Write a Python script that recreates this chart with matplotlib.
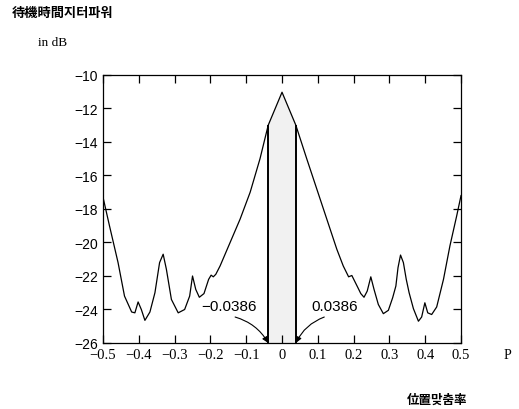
import numpy as np
import matplotlib
matplotlib.use("Agg")
from matplotlib import pyplot as plt

# curve (P, power in dB)
p = [-0.5, -0.482, -0.458, -0.44, -0.42, -0.411, -0.402, -0.393, -0.383, -0.369,
     -0.355, -0.342, -0.332, -0.323, -0.309, -0.29, -0.272, -0.258, -0.25, -0.241,
     -0.231, -0.218, -0.205, -0.198, -0.192, -0.185, -0.173, -0.145, -0.117, -0.089,
     -0.0615, -0.0386, 0.0,
     0.0386, 0.069, 0.097, 0.125, 0.153, 0.171, 0.186, 0.195,
     0.205, 0.212, 0.22, 0.229, 0.238, 0.248, 0.257, 0.269, 0.283,
     0.297, 0.309, 0.318, 0.324, 0.331, 0.339, 0.347, 0.355, 0.367, 0.381,
     0.39, 0.399, 0.407, 0.418, 0.432, 0.451, 0.469, 0.488, 0.5]
db = [-17.3, -19.0, -21.2, -23.2, -24.15, -24.2, -23.55, -24.0, -24.65, -24.15,
      -23.0, -21.2, -20.7, -21.6, -23.4, -24.2, -24.0, -23.2, -22.0, -22.8,
      -23.27, -23.05, -22.2, -21.95, -22.05, -21.9, -21.4, -20.0, -18.6, -17.0,
      -15.0, -13.0, -11.03,
      -13.0, -15.0, -16.8, -18.6, -20.4, -21.4, -22.05, -21.97,
      -22.4, -22.7, -23.05, -23.27, -22.9, -22.05, -22.8, -23.7, -24.25,
      -24.05, -23.3, -22.6, -21.5, -20.75, -21.2, -22.2, -23.0, -23.95, -24.7,
      -24.45, -23.6, -24.2, -24.3, -23.85, -22.2, -20.2, -18.4, -17.2]
band = 0.0386

xticks = [-0.5, -0.4, -0.3, -0.2, -0.1, 0, 0.1, 0.2, 0.3, 0.4, 0.5]
xlabels = ['\u22120.5', '\u22120.4', '\u22120.3', '\u22120.2', '\u22120.1', '0',
           '0.1', '0.2', '0.3', '0.4', '0.5']
yticks = [-10, -12, -14, -16, -18, -20, -22, -24, -26]

fig = plt.figure(figsize=(5.19, 4.10), dpi=100)
ax = fig.add_axes([0.1985, 0.161, 0.6898, 0.6537])

p = np.array(p)
db = np.array(db)
ax.plot(p, db, color='black', lw=0.9)

# shaded band between the two marks
xs = np.linspace(-band, band, 50)
top = np.interp(xs, p, db)
ax.fill_between(xs, -26, top, facecolor='#f1f1f1', edgecolor='none', zorder=0)
ax.vlines([-band, band], -26, np.interp([-band, band], p, db), color='black', lw=1.4)

ax.text(-0.148, -23.8, '\u22120.0386', ha='center', va='center', fontsize=11,
        family='Liberation Sans')
ax.text(0.147, -23.8, '0.0386', ha='center', va='center', fontsize=11,
        family='Liberation Sans')
ax.annotate('', xy=(-band, -26), xytext=(-0.131, -24.45),
            arrowprops=dict(arrowstyle='-|>', color='black', lw=0.8, mutation_scale=9,
                            shrinkA=0, shrinkB=0, connectionstyle='arc3,rad=-0.2'))
ax.annotate('', xy=(band, -26), xytext=(0.118, -24.45),
            arrowprops=dict(arrowstyle='-|>', color='black', lw=0.8, mutation_scale=9,
                            shrinkA=0, shrinkB=0, connectionstyle='arc3,rad=0.2'))

ax.set_xlim(-0.5, 0.5)
ax.set_ylim(-26, -10)
ax.set_xticks(xticks)
ax.set_xticklabels(xlabels, family='Liberation Serif', fontsize=10.5)
ax.set_yticks(yticks)
ax.set_yticklabels(['\u2212%d' % -v for v in yticks], family='Liberation Sans', fontsize=10)
ax.tick_params(direction='in', top=True, right=True, length=6, width=0.9)
for s in ax.spines.values():
    s.set_linewidth(0.9)

fig.text(12 / 519, 1 - 13 / 410, '待機時間지터파워', family=['Noto Sans CJK KR', 'DejaVu Sans'],
         fontsize=9.5, fontweight='bold', va='center', ha='left')
fig.text(38 / 519, 1 - 43 / 410, 'in dB', family='Liberation Serif', fontsize=9.5,
         va='center', ha='left')
fig.text(507 / 519, 1 - 356 / 410, 'P', family='Liberation Serif', fontsize=10,
         va='center', ha='center')
fig.text(437 / 519, 1 - 400 / 410, '位置맞춤率', family=['Noto Sans CJK KR', 'DejaVu Sans'],
         fontsize=9, fontweight='bold', va='center', ha='center')

fig.savefig('out.png', dpi=100)
plt.close(fig)
